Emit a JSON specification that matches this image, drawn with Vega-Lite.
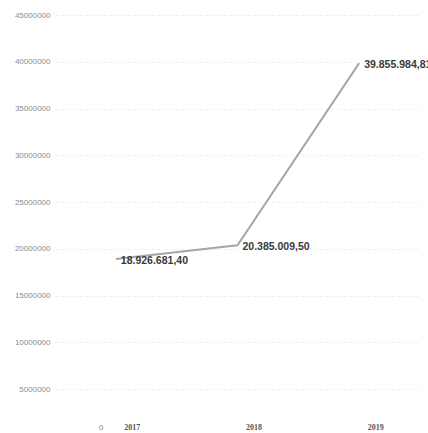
{
  "$schema": "https://vega.github.io/schema/vega-lite/v6.json",
  "width": 365,
  "height": 421,
  "padding": {"left": 55, "top": 15, "right": 8, "bottom": 0},
  "autosize": {"type": "none"},
  "background": "white",
  "config": {"view": {"stroke": null}},
  "data": {"values": [
    {"year": "2017", "value": 18926681.40, "label": "18.926.681,40"},
    {"year": "2018", "value": 20385009.50, "label": "20.385.009,50"},
    {"year": "2019", "value": 39855984.81, "label": "39.855.984,81"}
  ]},
  "encoding": {
    "x": {"field": "year", "type": "ordinal", "scale": {"type": "point", "padding": 0.5},
      "axis": {"title": null, "domain": false, "ticks": false, "grid": false, "labelAngle": 0,
        "offset": -15, "labelPadding": 2, "labelOffset": 16, "labelFont": "Liberation Serif",
        "labelFontSize": 8, "labelColor": "#555555", "labelFontWeight": "bold"}},
    "y": {"field": "value", "type": "quantitative", "scale": {"domain": [0, 45000000], "nice": false, "zero": true},
      "axis": {"title": null, "domain": false, "ticks": false, "values": [0, 5000000, 10000000, 15000000, 20000000, 25000000, 30000000, 35000000, 40000000, 45000000],
        "format": "d",
        "labelPadding": {"condition": {"test": "datum.value === 0", "value": -48}, "value": 5},
        "labelOffset": {"condition": {"test": "datum.value === 0", "value": -9}, "value": 0},
        "labelFont": "Liberation Sans", "labelFontSize": 8,
        "labelColor": "#8a8a8a", "grid": true, "gridColor": "#efefef", "gridDash": [3, 3]}}
  },
  "layer": [
    {"mark": {"type": "line", "color": "#a6a6a6", "strokeWidth": 2}},
    {"mark": {"type": "text", "align": "left", "baseline": "middle", "dx": 5, "dy": 2,
      "font": "Liberation Sans", "fontSize": 10.5, "fontWeight": "bold", "color": "#3a3a3a"},
     "encoding": {"text": {"field": "label"}}}
  ]
}
